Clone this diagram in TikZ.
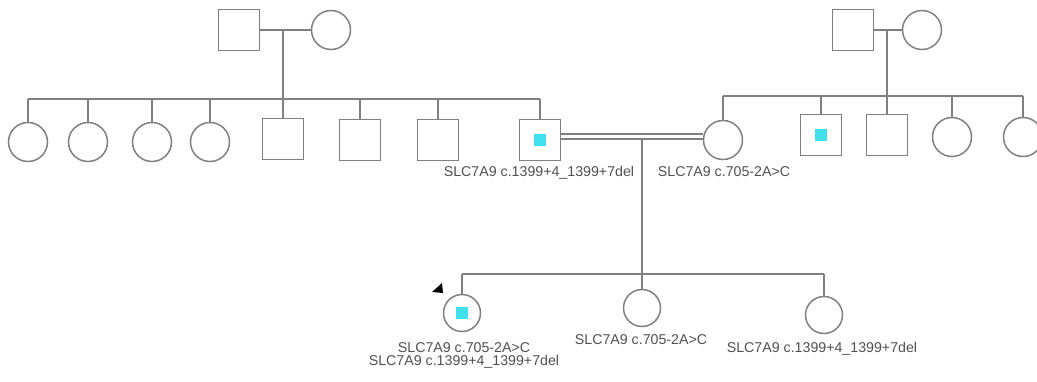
\documentclass[tikz,border=0pt]{standalone}
\usepackage{fontspec}
\setsansfont{Liberation Sans}
\usepackage{tikz}

\definecolor{pedline}{RGB}{128,128,128}
\definecolor{affcyan}{RGB}{64,224,236}
\definecolor{labelgray}{RGB}{80,80,80}

\begin{document}
\begin{tikzpicture}[x=1pt, y=-1pt,
  male/.style={draw=pedline, line width=1.5pt, minimum size=41pt, inner sep=0pt},
  female/.style={circle, draw=pedline, line width=1.5pt, minimum size=39pt, inner sep=0pt},
  affected/.style={path picture={\fill[affcyan] ([shift={(-6pt,-6pt)}]path picture bounding box.center) rectangle ++(12pt,12pt);}},
  line/.style={draw=pedline, line width=1.5pt},
  gtext/.style={font=\sffamily\fontsize{14.2}{16}\selectfont, text=labelgray, inner sep=0pt, anchor=base}]
  \useasboundingbox (0,0) rectangle (1037,381);

  % generation I
  \node[male] (lgf) at (239,30) {};
  \node[female] (lgm) at (331,30) {};
  \node[male] (rgf) at (853,30) {};
  \node[female] (rgm) at (922,30) {};

  % generation II
  \node[female] (l1) at (28,142) {};
  \node[female] (l2) at (88,142) {};
  \node[female] (l3) at (152,142) {};
  \node[female] (l4) at (210,142) {};
  \node[male] (l5) at (283,139) {};
  \node[male] (l6) at (360,140) {};
  \node[male] (l7) at (438,140) {};
  \node[male, affected] (fa) at (540,140) {};

  \node[female] (mo) at (723,140) {};
  \node[male, affected] (r1) at (821,135) {};
  \node[male] (r2) at (887,135) {};
  \node[female] (r3) at (952,137) {};
  \node[female] (r4) at (1023,137) {};

  % generation III
  \node[female, affected, minimum size=37pt] (pb) at (462,313) {};
  \node[female, minimum size=37pt] (s1) at (642,308) {};
  \node[female, minimum size=37pt] (s2) at (824,315) {};

  \coordinate (lsib) at (0,99);
  \coordinate (rsib) at (0,96);
  \coordinate (csib) at (0,274);
  \coordinate (cpl) at (642,139);

  % left family
  \draw[line] (lgf.east) -- (lgm.west);
  \draw[line] (l5.north |- lgf.east) -- (l5.north |- lsib);
  \draw[line] (l1.north |- lsib) -- (fa.north |- lsib);
  \foreach \c in {l1,l2,l3,l4,l5,l6,l7,fa}
    \draw[line] (\c.north) -- (\c.north |- lsib);

  % right family
  \draw[line] (rgf.east) -- (rgm.west);
  \draw[line] (r2.north |- rgf.east) -- (r2.north |- rsib);
  \draw[line] (mo.north |- rsib) -- (r4.north |- rsib);
  \foreach \c in {mo,r1,r2,r3,r4}
    \draw[line] (\c.north) -- (\c.north |- rsib);

  % consanguineous couple and offspring
  \draw[line] ([yshift=6pt]fa.east) -- ([yshift=6pt]mo.west);
  \draw[line] ([yshift=1pt]fa.east) -- ([yshift=1pt]mo.west);
  \draw[line] (cpl) -- (cpl |- csib);
  \draw[line] (pb.north |- csib) -- (s2.north |- csib);
  \foreach \c in {pb,s1,s2}
    \draw[line] (\c.north) -- (\c.north |- csib);

  % proband arrow
  \fill[black] (432,292) -- (442,283) -- (443,293) -- cycle;

  % genotypes
  \node[gtext] (gfa) at (539,176) {SLC7A9 c.1399+4\_1399+7del};
  \node[gtext] (gmo) at (724,176) {SLC7A9 c.705-2A>C};
  \node[gtext] (gpb1) at (464,352) {SLC7A9 c.705-2A>C};
  \node[gtext] (gpb2) at (464,365) {SLC7A9 c.1399+4\_1399+7del};
  \node[gtext] (gs1) at (641,344) {SLC7A9 c.705-2A>C};
  \node[gtext] (gs2) at (822,352) {SLC7A9 c.1399+4\_1399+7del};
\end{tikzpicture}
\end{document}
